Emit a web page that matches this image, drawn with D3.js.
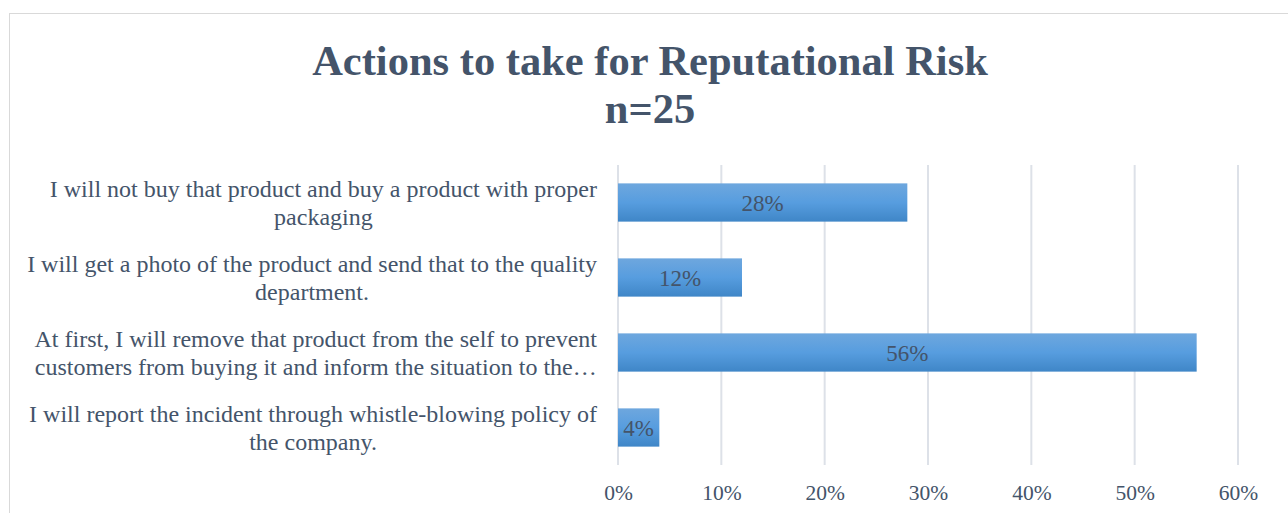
<!DOCTYPE html>
<html>
<head>
<meta charset="utf-8">
<script src="https://cdn.jsdelivr.net/npm/d3@7"></script>
<style>
body { margin:0; background:#fff; }
text { font-family: "Liberation Serif", "Times New Roman", serif; fill:#44546a; }
</style>
</head>
<body>
<div id="chart-area"></div>
<script>
// data
var categories = [
	["I will not buy that product and buy a product with proper", "packaging"],
	["I will get a photo of the product and send that to the quality", "department."],
	["At first, I will remove that product from the self to prevent", "customers from buying it and inform the situation to the\u2026"],
	["I will report the incident through whistle-blowing policy of", "the company."]
];
var values = [0.28, 0.12, 0.56, 0.04];
var labels = ["28%", "12%", "56%", "4%"];
var ticks = [0, 0.1, 0.2, 0.3, 0.4, 0.5, 0.6];

var W = 1288, H = 513;
var margin = {left:618, right:50, top:165, bottom:48};
var width = W - margin.left - margin.right;   // 620
var height = H - margin.top - margin.bottom;  // 300

var svg = d3.select("#chart-area")
	.append("svg")
		.attr("width", W)
		.attr("height", H)

// outer chart border
svg.append("rect")
	.attr("x", 9.5).attr("y", 13.5)
	.attr("width", W).attr("height", H)
	.attr("fill", "none")
	.attr("stroke", "#d9d9d9")

var grad = svg.append("defs").append("linearGradient")
	.attr("id", "barGrad")
	.attr("x1", 0).attr("y1", 0).attr("x2", 0).attr("y2", 1)
grad.append("stop").attr("offset", "0%").attr("stop-color", "#6ea7de")
grad.append("stop").attr("offset", "50%").attr("stop-color", "#579ddf")
grad.append("stop").attr("offset", "100%").attr("stop-color", "#3f86c7")

// title
svg.append("text")
	.attr("x", 650).attr("y", 75)
	.attr("text-anchor", "middle")
	.attr("font-size", "42.5px")
	.attr("font-weight", "bold")
	.text("Actions to take for Reputational Risk")
svg.append("text")
	.attr("x", 650).attr("y", 123)
	.attr("text-anchor", "middle")
	.attr("font-size", "42.5px")
	.attr("font-weight", "bold")
	.text("n=25")

var g = svg.append("g")
	.attr("transform", "translate(" + margin.left + "," + margin.top + ")")

var x = d3.scaleLinear()
	.domain([0, 0.6])
	.range([0, width]);

var y = d3.scaleBand()
	.domain(d3.range(categories.length))
	.range([0, height])
	.paddingInner(0.49)
	.paddingOuter(0.245);

// gridlines
g.selectAll("line.grid")
	.data(ticks)
	.enter().append("line")
		.attr("class", "grid")
		.attr("x1", function(d){ return x(d); })
		.attr("x2", function(d){ return x(d); })
		.attr("y1", 0)
		.attr("y2", height)
		.attr("stroke", "#dde1e8")
		.attr("stroke-width", 2)

// x axis labels
var xAxisCall = d3.axisBottom(x)
	.tickValues(ticks)
	.tickFormat(d3.format(".0%"))
	.tickSize(0)
	.tickPadding(20)
var xAxis = g.append("g")
	.attr("transform", "translate(0," + height + ")")
	.call(xAxisCall)
xAxis.select(".domain").remove()
xAxis.selectAll("text")
	.attr("font-size", "21.5px")
	.attr("font-family", null)
	.attr("fill", "#44546a")

// bars
g.selectAll("rect.bar")
	.data(values)
	.enter().append("rect")
		.attr("class", "bar")
		.attr("x", x(0))
		.attr("y", function(d, i){ return y(i); })
		.attr("width", function(d){ return x(d) - x(0); })
		.attr("height", y.bandwidth())
		.attr("fill", "url(#barGrad)")

// data labels
g.selectAll("text.val")
	.data(values)
	.enter().append("text")
		.attr("class", "val")
		.attr("x", function(d){ return x(d / 2); })
		.attr("y", function(d, i){ return y(i) + y.bandwidth() / 2; })
		.attr("dy", "0.35em")
		.attr("text-anchor", "middle")
		.attr("font-size", "23px")
		.text(function(d, i){ return labels[i]; })

// category labels, each block right-aligned, lines centred in the block
var labelRight = 597;
categories.forEach(function(lines, i){
	var cy = margin.top + y(i) + y.bandwidth() / 2;
	var grp = svg.append("g");
	var ts = lines.map(function(t, j){
		return grp.append("text")
			.attr("y", cy + (j - 0.5) * 27.5)
			.attr("dy", "0.35em")
			.attr("text-anchor", "middle")
			.attr("font-size", "24px")
			.text(t);
	});
	var w = d3.max(ts, function(t){ return t.node().getComputedTextLength(); });
	ts.forEach(function(t){ t.attr("x", labelRight - w / 2); });
});
</script>
</body>
</html>
